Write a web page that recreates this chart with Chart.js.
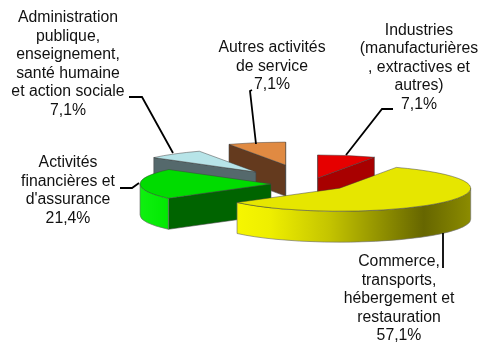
<!DOCTYPE html>
<html>
<head>
<meta charset="utf-8">
<style>
  html, body { margin: 0; padding: 0; background: #fff; }
  canvas { display: block; }
</style>
<script src="https://cdn.jsdelivr.net/npm/chart.js@4"></script>
</head>
<body>
<canvas id="pieChart" width="480" height="342"></canvas>
<script>
// Data
const categories = ["Industries", "Commerce", "Activités financières", "Administration", "Autres"];
const values = [7.1, 57.1, 21.4, 7.1, 7.1];
const labelLines = [
  ["Industries", "(manufacturières", ", extractives et", "autres)"],
  ["Commerce,", "transports,", "hébergement et", "restauration"],
  ["Activités", "financières et", "d'assurance"],
  ["Administration", "publique,", "enseignement,", "santé humaine", "et action sociale"],
  ["Autres activités", "de service"]
];

// Styles
const topColors = ["#E60000", "#E6E600", "#00DC00", "#B7E4E8", "#E08A42"];
const faceColors = ["#A80000", "#E6E600", "#006400", "#55696C", "#643A1E"];
const explode = [35, 38, 39, 87, 110];
const drawOrder = [4, 3, 0, 2, 1];
const squash = 0.176;
const depth = 31;

// Label blocks: centre x, first line y
const labelPos = [[419, 30.5], [399, 262], [68, 163], [68, 18], [272, 48]];
const leaders = [
  [[393, 109], [382, 109], [346, 155]],
  [[443, 233], [443, 268]],
  [[120, 188], [132, 188], [139, 183]],
  [[129, 97], [142, 97], [173, 153]],
  [[252, 90], [250, 91], [256, 144]]
];

function wallFill(ctx, i) {
  if (i === 1) {
    const g = ctx.createLinearGradient(235, 0, 471, 0);
    g.addColorStop(0, "#F7F700");
    g.addColorStop(0.15, "#EEEE00");
    g.addColorStop(0.4, "#C4C400");
    g.addColorStop(0.8, "#666600");
    g.addColorStop(1, "#8C8C00");
    return g;
  }
  if (i === 2) {
    const g = ctx.createLinearGradient(139, 0, 171, 0);
    g.addColorStop(0, "#10F010");
    g.addColorStop(1, "#00E800");
    return g;
  }
  return faceColors[i];
}

const pie3d = {
  id: "pie3d",
  beforeDatasetsDraw(chart) {
    const ctx = chart.ctx;
    const arcs = chart.getDatasetMeta(0).data;

    drawOrder.forEach(function (i) {
      const arc = arcs[i];
      const r = arc.outerRadius;
      const a0 = arc.startAngle;
      const a1 = arc.endAngle;
      const mid = (a0 + a1) / 2;
      const cx = arc.x + explode[i] * Math.cos(mid);
      const cy = arc.y + explode[i] * Math.sin(mid) * squash;
      const px = function (a) { return cx + r * Math.cos(a); };
      const py = function (a) { return cy + r * Math.sin(a) * squash; };

      ctx.save();
      ctx.lineWidth = 0.8;
      ctx.lineJoin = "round";

      // radial side faces, only the ones turned to the viewer
      [[a0, Math.cos(a0) < 0.01], [a1, Math.cos(a1) > -0.01]].forEach(function (face) {
        if (!face[1]) return;
        const a = face[0];
        ctx.beginPath();
        ctx.moveTo(cx, cy);
        ctx.lineTo(px(a), py(a));
        ctx.lineTo(px(a), py(a) + depth);
        ctx.lineTo(cx, cy + depth);
        ctx.closePath();
        ctx.fillStyle = faceColors[i];
        ctx.fill();
        ctx.strokeStyle = "rgba(70,70,70,0.7)";
        ctx.stroke();
      });

      // outer wall, only the part facing the viewer
      const from = Math.max(a0, 0);
      const to = Math.min(a1, Math.PI);
      if (to > from) {
        ctx.beginPath();
        ctx.ellipse(cx, cy, r, r * squash, 0, from, to);
        ctx.ellipse(cx, cy + depth, r, r * squash, 0, to, from, true);
        ctx.closePath();
        ctx.fillStyle = wallFill(ctx, i);
        ctx.fill();
        ctx.strokeStyle = "rgba(110,110,110,0.8)";
        ctx.stroke();
      }
      ctx.restore();

      // top face, drawn by the arc element itself
      ctx.save();
      ctx.translate(cx, cy);
      ctx.scale(1, squash);
      ctx.translate(-arc.x, -arc.y);
      arc.draw(ctx);
      ctx.restore();

      ctx.save();
      ctx.beginPath();
      ctx.moveTo(cx, cy);
      ctx.ellipse(cx, cy, r, r * squash, 0, a0, a1);
      ctx.closePath();
      ctx.lineWidth = 0.8;
      ctx.strokeStyle = "rgba(60,60,60,0.6)";
      ctx.stroke();
      ctx.restore();
    });
    return false;
  },
  afterDraw(chart) {
    const ctx = chart.ctx;
    ctx.save();
    ctx.strokeStyle = "#000";
    ctx.lineWidth = 1.8;
    leaders.forEach(function (pts) {
      ctx.beginPath();
      pts.forEach(function (p, k) {
        if (k === 0) ctx.moveTo(p[0], p[1]);
        else ctx.lineTo(p[0], p[1]);
      });
      ctx.stroke();
    });

    ctx.fillStyle = "#111";
    ctx.font = "15.8px 'Liberation Sans', Arial, sans-serif";
    ctx.textAlign = "center";
    ctx.textBaseline = "middle";
    labelLines.forEach(function (lines, i) {
      const pct = values[i].toFixed(1).replace(".", ",") + "%";
      lines.concat([pct]).forEach(function (line, k) {
        ctx.fillText(line, labelPos[i][0], labelPos[i][1] + k * 18.5);
      });
    });
    ctx.restore();
  }
};

new Chart(document.getElementById("pieChart"), {
  type: "pie",
  data: {
    labels: categories,
    datasets: [{
      data: values,
      backgroundColor: topColors,
      borderWidth: 0
    }]
  },
  options: {
    responsive: false,
    animation: false,
    layout: { padding: { left: 179, right: 39, top: 53, bottom: 27 } },
    plugins: {
      legend: { display: false },
      tooltip: { enabled: false }
    }
  },
  plugins: [pie3d]
});
</script>
</body>
</html>
